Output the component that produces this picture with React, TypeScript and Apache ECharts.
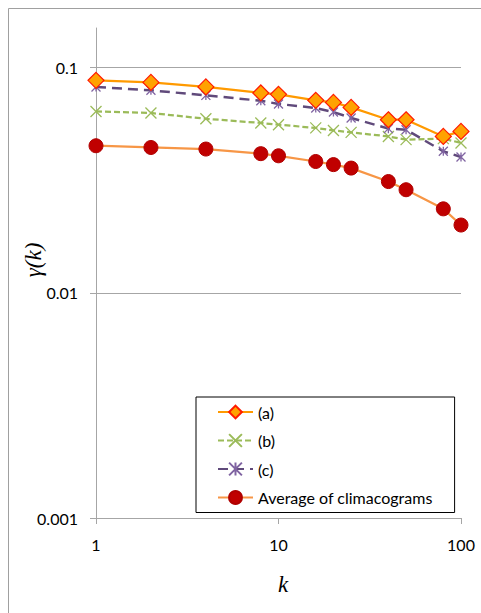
import React, { useEffect, useRef } from "react";
import * as echarts from "echarts";

const kValues = [1, 2, 4, 8, 10, 16, 20, 25, 40, 50, 80, 100];
const seriesA = [0.0878, 0.086, 0.0821, 0.0772, 0.0761, 0.0716, 0.0701, 0.0666, 0.0587, 0.0587, 0.0495, 0.0521];
const seriesB = [0.0639, 0.0629, 0.0593, 0.0568, 0.0558, 0.054, 0.0526, 0.0516, 0.0495, 0.0479, 0.0484, 0.0463];
const seriesC = [0.0821, 0.0793, 0.0753, 0.0713, 0.069, 0.0662, 0.0635, 0.0598, 0.0536, 0.053, 0.0425, 0.0401];
const seriesAvg = [0.045, 0.0442, 0.0435, 0.0415, 0.0406, 0.0383, 0.0371, 0.0358, 0.0312, 0.0287, 0.0236, 0.02];
const yGridValues = [0.1, 0.01];
const legendNames = ["(a)", "(b)", "(c)", "Average of climacograms"];

const FONT = "Lato, 'Open Sans', sans-serif";
const AXIS_GRAY = "#A6A6A6";

const pair = (ys: number[]) => kValues.map((k, i) => [k, ys[i]]);

export default function App() {
  const ref = useRef<HTMLDivElement>(null);
  useEffect(() => {
    if (!ref.current) return;
    const chart = echarts.init(ref.current, undefined, { renderer: "svg" });
    chart.setOption({
      animation: false,
      backgroundColor: "#fff",
      grid: { left: 88, right: 20, top: 20, bottom: 95, containLabel: false },
      xAxis: {
        type: "log",
        logBase: 10,
        min: 1,
        max: 100,
        axisLine: { show: true, lineStyle: { color: AXIS_GRAY, width: 1 } },
        axisTick: { show: true, inside: false, length: 6, lineStyle: { color: AXIS_GRAY } },
        minorTick: { show: false },
        splitLine: { show: false },
        axisLabel: {
          color: "#000",
          fontFamily: FONT,
          fontSize: 16,
          margin: 18,
          formatter: (v: number) => String(+v.toPrecision(3)),
        },
      },
      yAxis: {
        type: "log",
        logBase: 10,
        min: 0.001,
        max: 0.15,
        axisLine: { show: true, lineStyle: { color: AXIS_GRAY, width: 1 } },
        axisTick: { show: true, inside: false, length: 6, lineStyle: { color: AXIS_GRAY } },
        minorTick: { show: false },
        splitLine: { show: false },
        axisLabel: {
          color: "#000",
          fontFamily: FONT,
          fontSize: 16,
          margin: 18,
          showMaxLabel: false,
          formatter: (v: number) => String(+v.toPrecision(3)),
        },
      },
      legend: {
        orient: "vertical",
        left: 188,
        top: 389,
        data: legendNames,
        itemWidth: 35,
        itemHeight: 16,
        itemGap: 12.5,
        itemTextGap: 5,
        padding: [7, 22, 7, 21],
        borderColor: "#000",
        borderWidth: 1,
        backgroundColor: "#fff",
        textStyle: { color: "#000", fontFamily: FONT, fontSize: 16, lineHeight: 16 },
      },
      graphic: [
        {
          type: "rect",
          shape: { x: 0.5, y: 0.5, width: 600, height: 800 },
          style: { fill: "none", stroke: "#A0A0A0", lineWidth: 1 },
          silent: true,
          z: -10,
        },
        {
          type: "text",
          x: 25,
          y: 252,
          rotation: Math.PI / 2,
          style: {
            text: "γ(k)",
            font: "italic 23px 'Liberation Serif', 'Times New Roman', serif",
            fill: "#000",
            align: "center",
            verticalAlign: "middle",
          },
        },
        {
          type: "text",
          x: 275,
          y: 576,
          style: {
            text: "k",
            font: "italic 23px 'Liberation Serif', 'Times New Roman', serif",
            fill: "#000",
            align: "center",
            verticalAlign: "middle",
          },
        },
      ],
      series: [
        {
          name: "grid",
          type: "line",
          data: [],
          silent: true,
          z: 1,
          markLine: {
            silent: true,
            symbol: "none",
            label: { show: false },
            lineStyle: { color: AXIS_GRAY, type: "solid", width: 1 },
            data: yGridValues.map((v) => ({ yAxis: v })),
          },
        },
        {
          name: "(a)",
          type: "line",
          z: 4,
          data: pair(seriesA),
          symbol: "diamond",
          symbolSize: 16,
          lineStyle: { color: "#FF9A00", width: 2.25 },
          itemStyle: { color: "#FFA200", borderColor: "#FF1A00", borderWidth: 1.2 },
        },
        {
          name: "(b)",
          type: "line",
          z: 2,
          data: pair(seriesB),
          symbol: "path://M0,0L10,10M10,0L0,10",
          symbolSize: 11,
          lineStyle: { color: "#9BBB59", width: 2.25, type: [6, 3] },
          itemStyle: { color: "#9BBB59", borderColor: "#9BBB59", borderWidth: 1.3 },
        },
        {
          name: "(c)",
          type: "line",
          z: 3,
          data: pair(seriesC),
          symbol: "path://M0,0L10,10M10,0L0,10M5,0L5,10",
          symbolSize: 9,
          lineStyle: { color: "#604A7B", width: 2.5, type: [10, 6] },
          itemStyle: { color: "#8064A2", borderColor: "#8064A2", borderWidth: 1.3 },
        },
        {
          name: "Average of climacograms",
          type: "line",
          z: 2,
          data: pair(seriesAvg),
          symbol: "circle",
          symbolSize: 14,
          lineStyle: { color: "#F79646", width: 2.25 },
          itemStyle: { color: "#C00000", borderColor: "#B00000", borderWidth: 1 },
        },
      ],
    });
    return () => chart.dispose();
  }, []);
  return (
    <div
      ref={ref}
      style={{ position: "fixed", left: 8, top: 8, width: 473, height: 605 }}
    />
  );
}
